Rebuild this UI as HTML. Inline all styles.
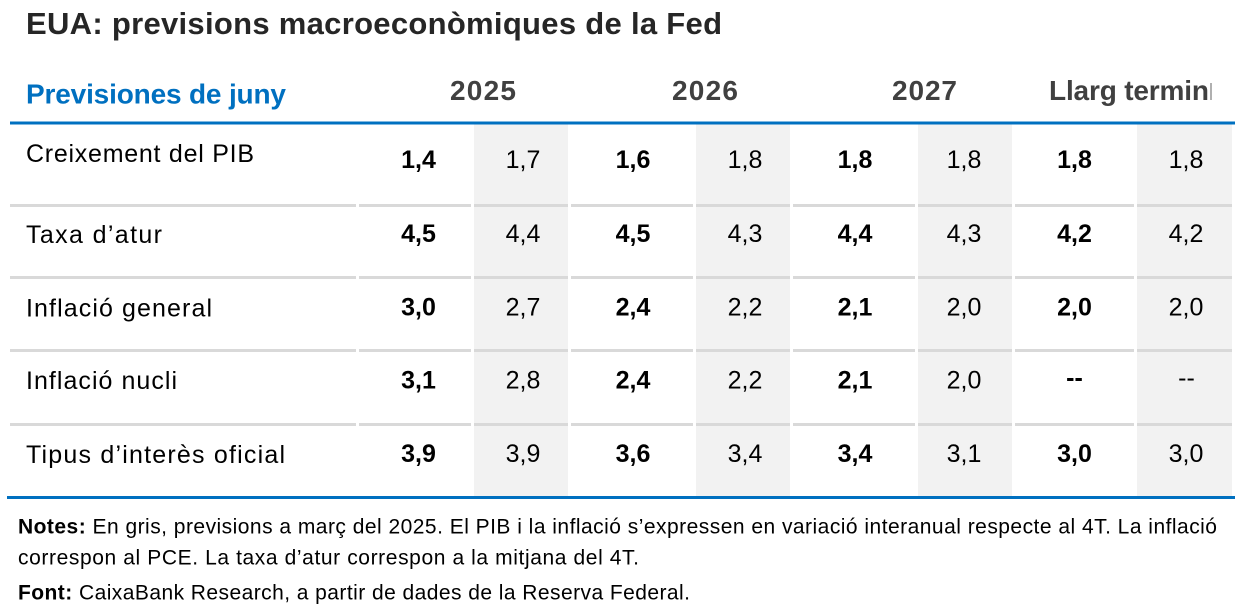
<!DOCTYPE html>
<html>
<head>
<meta charset="utf-8">
<style>
  html,body{margin:0;padding:0;background:#fff;}
  svg{display:block;}
  text{font-family:"Liberation Sans",Arial,sans-serif;}
</style>
</head>
<body>
<svg width="1253" height="610" viewBox="0 0 1253 610" xmlns="http://www.w3.org/2000/svg">
  <rect x="0" y="0" width="1253" height="610" fill="#ffffff"/>

  <!-- Title -->
  <text x="26" y="34" font-size="31" font-weight="bold" fill="#262626" textLength="696">EUA: previsions macroeconòmiques de la Fed</text>

  <!-- Header -->
  <text x="26" y="103.5" font-size="28" font-weight="bold" fill="#0070C0" textLength="260">Previsiones de juny</text>
  <text x="450" y="100" font-size="28" font-weight="bold" fill="#404040" textLength="66">2025</text>
  <text x="672" y="100" font-size="28" font-weight="bold" fill="#404040" textLength="66">2026</text>
  <text x="892" y="100" font-size="28" font-weight="bold" fill="#404040" textLength="65">2027</text>
  <text x="1049" y="100" font-size="28" font-weight="bold" fill="#404040" textLength="160">Llarg termin</text>
  <rect x="1210" y="83" width="2" height="17" fill="#b0b0b0"/>

  <!-- Gray columns -->
  <rect x="474" y="124" width="94" height="372" fill="#F2F2F2"/>
  <rect x="696" y="124" width="94" height="372" fill="#F2F2F2"/>
  <rect x="918" y="124" width="94" height="372" fill="#F2F2F2"/>
  <rect x="1137" y="124" width="95" height="372" fill="#F2F2F2"/>

  <!-- Top blue line -->
  <rect x="10" y="121.5" width="1225" height="3" fill="#0070C0"/>

  <!-- Separators -->
  <g fill="#D9D9D9">
    <g id="sep">
      <rect x="10" y="204" width="346" height="3"/>
      <rect x="359" y="204" width="112" height="3"/>
      <rect x="474" y="204" width="94" height="3"/>
      <rect x="571" y="204" width="122" height="3"/>
      <rect x="696" y="204" width="94" height="3"/>
      <rect x="793" y="204" width="122" height="3"/>
      <rect x="918" y="204" width="94" height="3"/>
      <rect x="1015" y="204" width="119" height="3"/>
      <rect x="1137" y="204" width="95" height="3"/>
    </g>
    <use href="#sep" y="72"/>
    <use href="#sep" y="145"/>
    <use href="#sep" y="219"/>
  </g>

  <!-- Bottom blue line -->
  <rect x="7" y="496" width="1228" height="3" fill="#0070C0"/>

  <!-- Row labels -->
  <g font-size="25" fill="#000">
    <text x="26" y="162" textLength="228">Creixement del PIB</text>
    <text x="26" y="243" textLength="136">Taxa d’atur</text>
    <text x="26" y="316.5" textLength="186">Inflació general</text>
    <text x="26" y="389" textLength="151">Inflació nucli</text>
    <text x="26" y="463" textLength="259">Tipus d’interès oficial</text>
  </g>

  <!-- Bold values (June) -->
  <g font-size="25" font-weight="bold" fill="#000" text-anchor="middle">
    <text x="418.5" y="168">1,4</text>
    <text x="633" y="168">1,6</text>
    <text x="855" y="168">1,8</text>
    <text x="1074.5" y="168">1,8</text>

    <text x="418.5" y="242">4,5</text>
    <text x="633" y="242">4,5</text>
    <text x="855" y="242">4,4</text>
    <text x="1074.5" y="242">4,2</text>

    <text x="418.5" y="315.5">3,0</text>
    <text x="633" y="315.5">2,4</text>
    <text x="855" y="315.5">2,1</text>
    <text x="1074.5" y="315.5">2,0</text>

    <text x="418.5" y="388.5">3,1</text>
    <text x="633" y="388.5">2,4</text>
    <text x="855" y="388.5">2,1</text>
    <text x="1074.5" y="386">--</text>

    <text x="418.5" y="462">3,9</text>
    <text x="633" y="462">3,6</text>
    <text x="855" y="462">3,4</text>
    <text x="1074.5" y="462">3,0</text>
  </g>

  <!-- Gray values (March) -->
  <g font-size="25" fill="#000" text-anchor="middle">
    <text x="523" y="168">1,7</text>
    <text x="745" y="168">1,8</text>
    <text x="964" y="168">1,8</text>
    <text x="1186" y="168">1,8</text>

    <text x="523" y="242">4,4</text>
    <text x="745" y="242">4,3</text>
    <text x="964" y="242">4,3</text>
    <text x="1186" y="242">4,2</text>

    <text x="523" y="315.5">2,7</text>
    <text x="745" y="315.5">2,2</text>
    <text x="964" y="315.5">2,0</text>
    <text x="1186" y="315.5">2,0</text>

    <text x="523" y="388.5">2,8</text>
    <text x="745" y="388.5">2,2</text>
    <text x="964" y="388.5">2,0</text>
    <text x="1186.5" y="386">--</text>

    <text x="523" y="462">3,9</text>
    <text x="745" y="462">3,4</text>
    <text x="964" y="462">3,1</text>
    <text x="1186" y="462">3,0</text>
  </g>

  <!-- Footnotes -->
  <g font-size="21" fill="#000">
    <text x="18" y="533.3" textLength="1199"><tspan font-weight="bold">Notes:</tspan> En gris, previsions a març del 2025. El PIB i la inflació s’expressen en variació interanual respecte al 4T. La inflació</text>
    <text x="18" y="564.5" textLength="621">correspon al PCE. La taxa d’atur correspon a la mitjana del 4T.</text>
    <text x="18" y="599.5" textLength="672"><tspan font-weight="bold">Font:</tspan> CaixaBank Research, a partir de dades de la Reserva Federal.</text>
  </g>
</svg>
</body>
</html>
